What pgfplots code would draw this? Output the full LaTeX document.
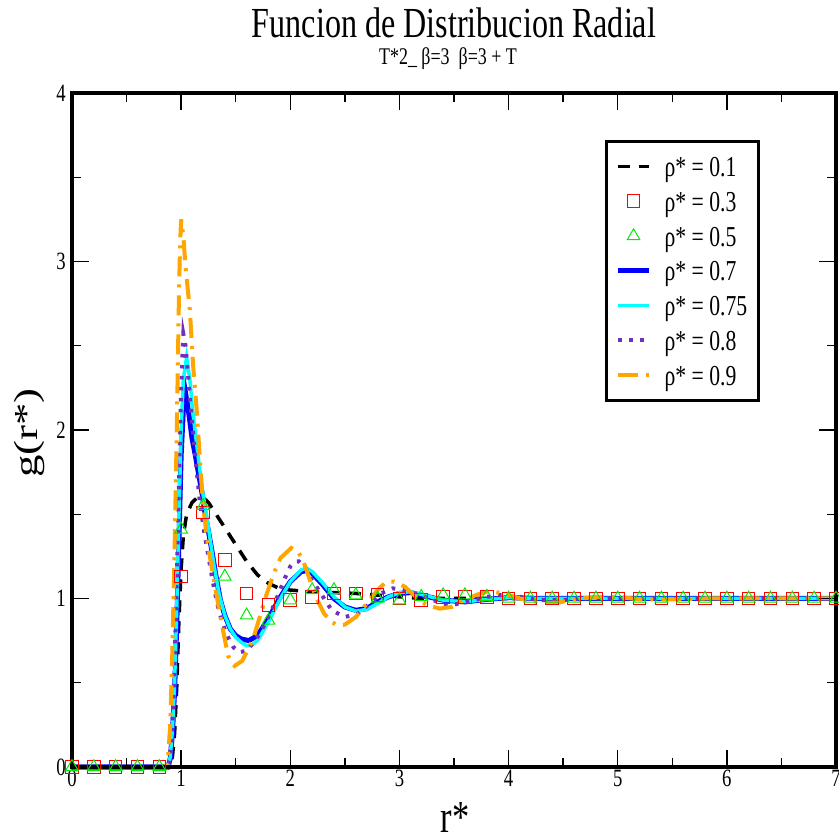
\documentclass[border=0pt]{standalone}
\usepackage{fontspec}
\setmainfont{Liberation Serif}[FakeStretch=0.75]
\newfontfamily\plainserif{Liberation Serif}
\usepackage{graphicx}
\usepackage{pgfplots}
\pgfplotsset{compat=1.18}
\definecolor{gorange}{RGB}{255,165,0}
\definecolor{gviolet}{RGB}{114,47,190}
\definecolor{ggreen}{RGB}{0,235,0}
\definecolor{gcyan}{RGB}{0,255,255}
\definecolor{gblue}{RGB}{0,0,255}
\definecolor{gred}{RGB}{255,0,0}
\pgfplotsset{
  linelegend/.style={legend image code/.code={\draw[##1] (0bp,0bp) -- (31bp,0bp);}},
  marklegend/.style={legend image code/.code={\draw[##1] plot coordinates {(15.5bp,0bp)};}},
}
\begin{document}
\begin{tikzpicture}
\useasboundingbox (0,0) rectangle (839bp,836bp);
\begin{axis}[
  at={(72bp,69bp)}, anchor=south west,
  scale only axis, width=764bp, height=674bp,
  xmin=0, xmax=7, ymin=0, ymax=4,
  xtick={0,1,2,3,4,5,6,7}, ytick={0,1,2,3,4},
  minor x tick num=1, minor y tick num=1,
  tick align=inside,
  xtick pos=both, ytick pos=both,
  xticklabel pos=lower, yticklabel pos=left,
  major tick length=17bp, minor tick length=9bp,
  every tick/.style={black, line width=1.3bp},
  axis line style={line width=4bp},
  clip=false, axis on top,
  ticklabel style={font=\fontsize{25}{30}\selectfont},
  /pgf/number format/assume math mode=true,
  xticklabel style={inner sep=3bp},
  yticklabel style={inner sep=6bp},
  legend cell align=left,
  legend style={at={(0.698,0.930)}, anchor=north west, draw=black,
    line width=2.6bp, inner xsep=9bp, inner ysep=13bp,
    row sep=10.8bp, column sep=11bp,
    font=\fontsize{29}{34}\selectfont,
    nodes={inner sep=2bp, text height=20bp, text depth=0bp, anchor=west}},
]
% rho* = 0.1
\addplot[black, line width=3.5bp, dash pattern=on 12bp off 9bp, linelegend] coordinates {
(0,0) (0.88,0) (0.9,0.02) (0.92,0.06) (0.94,0.2) (0.96,0.48) (0.98,0.88) (1.0,1.18)
(1.02,1.37) (1.05,1.5) (1.1,1.57) (1.15,1.6) (1.2,1.6) (1.25,1.57) (1.3,1.52)
(1.4,1.42) (1.5,1.32) (1.6,1.22) (1.7,1.14) (1.8,1.09) (1.9,1.06) (2.0,1.05)
(2.1,1.045) (2.2,1.04) (2.4,1.035) (2.6,1.03) (2.8,1.02) (3.0,1.01) (3.2,1.0)
(3.5,1.0) (4.0,1.0) (5.0,1.0) (6.0,1.0) (7.0,1.0)};
\addlegendentry{ρ* = 0.1}
% rho* = 0.3
\addplot[only marks, gred, mark=square, mark size=6.3bp, mark options={line width=1bp, solid}, marklegend] coordinates {
(0,0) (0.2,0) (0.4,0) (0.6,0) (0.8,0) (1.0,1.13) (1.2,1.51) (1.4,1.23) (1.6,1.03)
(1.8,0.96) (2.0,0.99) (2.2,1.01) (2.4,1.03) (2.6,1.03) (2.8,1.02) (3.0,1.0)
(3.2,0.99) (3.4,1.01) (3.6,1.01) (3.8,1.01) (4.0,1.0) (4.2,1.0) (4.4,1.0)
(4.6,1.0) (4.8,1.0) (5.0,1.0) (5.2,1.0) (5.4,1.0) (5.6,1.0) (5.8,1.0) (6.0,1.0)
(6.2,1.0) (6.4,1.0) (6.6,1.0) (6.8,1.0) (7.0,1.0)};
\addlegendentry{ρ* = 0.3}
% rho* = 0.5
\addplot[only marks, ggreen, mark=triangle, mark size=7.3bp, mark options={line width=1bp, solid}, marklegend] coordinates {
(0,0) (0.2,0) (0.4,0) (0.6,0) (0.8,0) (1.0,1.41) (1.2,1.55) (1.4,1.13) (1.6,0.9)
(1.8,0.87) (2.0,0.99) (2.2,1.05) (2.4,1.05) (2.6,1.02) (2.8,1.0) (3.0,0.99)
(3.2,1.01) (3.4,1.02) (3.6,1.02) (3.8,1.01) (4.0,1.0) (4.2,1.0) (4.4,1.0)
(4.6,1.0) (4.8,1.0) (5.0,1.0) (5.2,1.0) (5.4,1.0) (5.6,1.0) (5.8,1.0) (6.0,1.0)
(6.2,1.0) (6.4,1.0) (6.6,1.0) (6.8,1.0) (7.0,1.0)};
\addlegendentry{ρ* = 0.5}
% rho* = 0.7
\addplot[gblue, line width=5bp, linelegend] coordinates {
(0,0) (0.88,0) (0.9,0.05) (0.92,0.2) (0.94,0.45) (0.96,0.85) (0.98,1.35) (1.0,1.85)
(1.02,2.12) (1.04,2.22) (1.07,2.1) (1.1,1.95) (1.13,1.85) (1.16,1.74) (1.19,1.63)
(1.22,1.5) (1.25,1.4) (1.28,1.29) (1.32,1.13) (1.36,0.99) (1.4,0.9) (1.45,0.82)
(1.5,0.78) (1.55,0.76) (1.62,0.75) (1.7,0.78) (1.8,0.88) (1.9,1.0) (2.0,1.1)
(2.1,1.16) (2.15,1.165) (2.2,1.15) (2.3,1.08) (2.4,1.0) (2.5,0.95) (2.6,0.93)
(2.7,0.94) (2.8,0.98) (2.9,1.01) (3.0,1.03) (3.1,1.035) (3.2,1.02) (3.4,0.99)
(3.6,0.98) (3.8,0.995) (4.0,1.005) (4.3,1.0) (5.0,1.0) (6.0,1.0) (7.0,1.0)};
\addlegendentry{ρ* = 0.7}
% rho* = 0.75
\addplot[gcyan, line width=3.5bp, linelegend] coordinates {
(0,0) (0.88,0) (0.9,0.06) (0.92,0.22) (0.94,0.5) (0.96,0.95) (0.98,1.5) (1.0,2.0)
(1.02,2.3) (1.05,2.43) (1.08,2.3) (1.1,2.15) (1.13,1.98) (1.16,1.82) (1.2,1.62)
(1.25,1.42) (1.3,1.2) (1.35,1.02) (1.4,0.9) (1.45,0.82) (1.5,0.77) (1.55,0.74)
(1.6,0.72) (1.65,0.725) (1.7,0.75) (1.8,0.86) (1.9,0.99) (2.0,1.1) (2.1,1.17)
(2.15,1.18) (2.2,1.16) (2.3,1.09) (2.4,1.01) (2.5,0.95) (2.6,0.925) (2.7,0.935)
(2.8,0.97) (2.9,1.01) (3.0,1.035) (3.1,1.04) (3.2,1.025) (3.4,0.99) (3.6,0.98)
(3.8,0.995) (4.0,1.005) (4.3,1.0) (5.0,1.0) (6.0,1.0) (7.0,1.0)};
\addlegendentry{ρ* = 0.75}
% rho* = 0.8
\addplot[gviolet, line width=4bp, dash pattern=on 3.5bp off 7.5bp, linelegend] coordinates {
(0,0) (0.88,0) (0.9,0.06) (0.92,0.25) (0.94,0.6) (0.96,1.1) (0.98,1.7) (1.0,2.25)
(1.02,2.57) (1.04,2.5) (1.06,2.35) (1.08,2.2) (1.1,2.05) (1.13,1.84) (1.17,1.58)
(1.21,1.4) (1.25,1.25) (1.29,1.1) (1.33,0.97) (1.38,0.85) (1.43,0.77) (1.48,0.71)
(1.53,0.68) (1.6,0.69) (1.69,0.76) (1.76,0.84) (1.83,0.93) (1.9,1.04) (1.95,1.12)
(2.0,1.19) (2.04,1.22) (2.08,1.22) (2.14,1.18) (2.2,1.11) (2.3,1.01) (2.38,0.93)
(2.5,0.89) (2.62,0.91) (2.73,0.97) (2.83,1.03) (2.94,1.06) (3.05,1.05) (3.19,1.02)
(3.31,0.99) (3.44,0.96) (3.56,0.97) (3.68,0.99) (3.8,1.01) (3.92,1.02) (4.1,1.01)
(4.3,0.99) (4.5,0.99) (4.7,1.0) (5.0,1.0) (6.0,1.0) (7.0,1.0)};
\addlegendentry{ρ* = 0.8}
% rho* = 0.9
\addplot[gorange, line width=4bp, dash pattern=on 20bp off 8bp on 3bp off 8bp, linelegend] coordinates {
(0,0) (0.86,0) (0.88,0.05) (0.9,0.25) (0.92,0.7) (0.94,1.3) (0.96,2.0) (0.98,2.8)
(0.99,3.1) (1.0,3.25) (1.02,3.15) (1.04,2.97) (1.08,2.71) (1.11,2.38) (1.14,2.14)
(1.17,1.85) (1.2,1.56) (1.23,1.39) (1.26,1.26) (1.3,1.11) (1.36,0.89) (1.43,0.66)
(1.49,0.6) (1.56,0.63) (1.66,0.76) (1.78,1.02) (1.85,1.15) (1.91,1.24) (2.01,1.3)
(2.07,1.28) (2.12,1.22) (2.18,1.11) (2.24,1.0) (2.31,0.91) (2.38,0.86) (2.44,0.84)
(2.5,0.845) (2.6,0.89) (2.7,0.97) (2.8,1.05) (2.88,1.1) (2.95,1.1) (3.05,1.07)
(3.15,1.01) (3.25,0.96) (3.37,0.94) (3.48,0.95) (3.6,0.99) (3.7,1.02) (3.82,1.045)
(3.95,1.03) (4.1,1.0) (4.3,0.975) (4.45,0.975) (4.6,0.995) (4.8,1.01) (5.0,1.01)
(5.2,0.995) (5.5,0.995) (5.8,1.0) (6.5,1.0) (7.0,1.0)};
\addlegendentry{ρ* = 0.9}
\end{axis}
\node[anchor=base, font=\fontsize{43}{50}\selectfont] at (454bp,798bp) {Funcion de Distribucion Radial};
\node[anchor=base, font=\fontsize{24}{28}\selectfont] at (448bp,771bp) {T*2\_ β=3\ \ β=3 + T};
\node[anchor=base, inner sep=0pt, font=\fontsize{46}{55}\selectfont] at (455bp,4bp) {r*};
\node[rotate=90, anchor=center, inner sep=0pt] at (29bp,403bp) {\scalebox{1}[0.75]{\plainserif\fontsize{45}{54}\selectfont g(r*)}};
\end{tikzpicture}
\end{document}
